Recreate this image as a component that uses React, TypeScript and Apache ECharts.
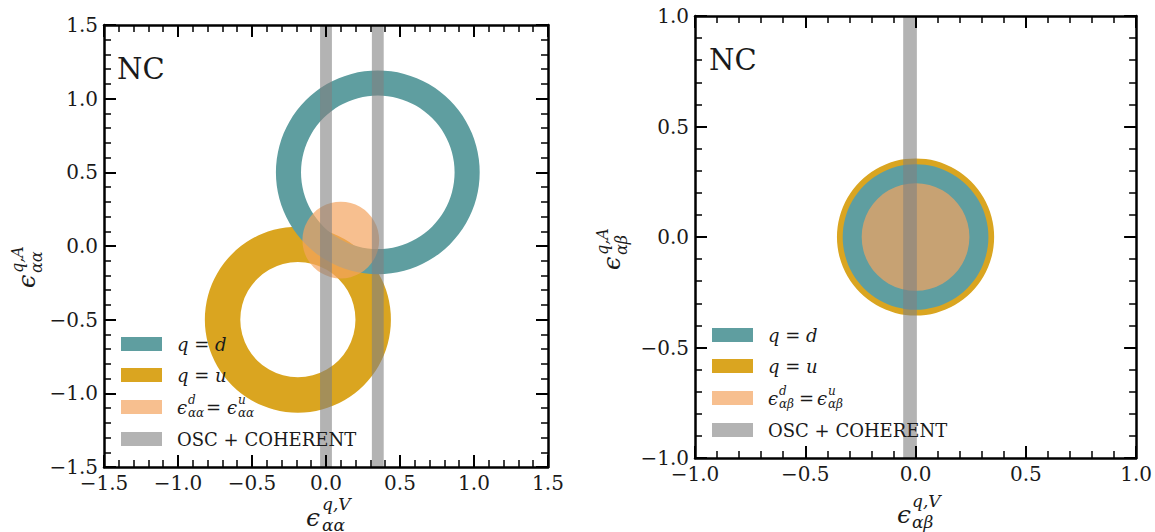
import React, { useEffect, useRef } from 'react';
import * as echarts from 'echarts';

const SERIF = 'DejaVu Serif';

// Allowed regions; index 0 = q=d, 1 = q=u, 2 = ε^d = ε^u
const regionColors = ['#5F9EA0', '#DAA520', 'rgba(244,164,96,0.7)'];
const bandColor = 'rgba(128,128,128,0.6)';
// Drawing order: u first, then d on top, then the combined region
const drawOrder = [1, 0, 2];

// Diagonal couplings (αα): ring centres and radii
const diagCenterX = [0.35, -0.19, 0.1];
const diagCenterY = [0.5, -0.5, 0.04];
const diagInnerR = [0.52, 0.39, 0];
const diagOuterR = [0.69, 0.63, 0.26];
// OSC + COHERENT allowed vertical bands
const diagBandLo = [-0.04, 0.31];
const diagBandHi = [0.04, 0.39];
const diagRange = [-1.5, 1.5];

// Off-diagonal couplings (αβ)
const offCenterX = [0, 0, 0];
const offCenterY = [0, 0, 0];
const offInnerR = [0, 0, 0];
const offOuterR = [0.33, 0.356, 0.244];
const offBandLo = [-0.056];
const offBandHi = [0.006];
const offRange = [-1.0, 1.0];

const tickStep = 0.5;

const fmt = (v: number) => (v < 0 ? '\u2212' + Math.abs(v).toFixed(1) : v.toFixed(1));

function axis(gridIndex: number, position: string, range: number[], showLabel: boolean) {
  return {
    type: 'value',
    gridIndex,
    position,
    min: range[0],
    max: range[1],
    interval: tickStep,
    z: 10,
    axisLine: { show: true, onZero: false, lineStyle: { color: '#000', width: 2.5 } },
    axisTick: { show: true, inside: true, length: 12, lineStyle: { color: '#000', width: 2 } },
    minorTick: { show: true, splitNumber: 5, length: 7, lineStyle: { color: '#000', width: 1.5 } },
    splitLine: { show: false },
    axisLabel: {
      show: showLabel,
      fontFamily: SERIF,
      fontSize: 20,
      color: '#1a1a1a',
      margin: 6,
      showMinLabel: true,
      showMaxLabel: true,
      formatter: fmt,
    },
  };
}

function ringItem(params: any, api: any) {
  const c = api.coord([api.value(0), api.value(1)]);
  const so = api.size([api.value(3), api.value(3)]);
  const si = api.size([api.value(2), api.value(2)]);
  const r = (so[0] + so[1]) / 2;
  const r0 = (si[0] + si[1]) / 2;
  return {
    type: 'ring',
    shape: { cx: c[0], cy: c[1], r, r0 },
    style: { fill: api.visual('color') },
  };
}

function bandItem(params: any, api: any) {
  const p0 = api.coord([api.value(0), api.value(3)]);
  const p1 = api.coord([api.value(1), api.value(2)]);
  return {
    type: 'rect',
    shape: { x: p0[0], y: p0[1], width: p1[0] - p0[0], height: p1[1] - p0[1] },
    style: { fill: bandColor },
  };
}

function regionSeries(gridIdx: number, cx: number[], cy: number[], ri: number[], ro: number[]) {
  return drawOrder.map((i) => ({
    type: 'custom',
    xAxisIndex: gridIdx * 2,
    yAxisIndex: gridIdx * 2,
    renderItem: ringItem,
    color: regionColors[i],
    clip: true,
    silent: true,
    data: [[cx[i], cy[i], ri[i], ro[i]]],
  }));
}

function bandSeries(gridIdx: number, lo: number[], hi: number[], range: number[]) {
  return {
    type: 'custom',
    xAxisIndex: gridIdx * 2,
    yAxisIndex: gridIdx * 2,
    renderItem: bandItem,
    clip: true,
    silent: true,
    data: lo.map((l, k) => [l, hi[k], range[0], range[1]]),
  };
}

function txt(x: number, y: number, text: string, size: number, italic = false, align = 'left') {
  return {
    type: 'text',
    x,
    y,
    z: 100,
    style: {
      text,
      fontFamily: SERIF,
      fontSize: size,
      fontStyle: italic ? 'italic' : 'normal',
      fill: '#1a1a1a',
      align,
      verticalAlign: 'middle',
    },
  };
}

// ϵ with a stacked superscript and subscript
function eps(x: number, y: number, sup: string, sub: string, size: number, sx: number, supDy: number, subDy: number) {
  const s = Math.round(size * 0.68);
  return [txt(x, y, '\u03F5', size, true), txt(x + sx, y - supDy, sup, s, true), txt(x + sx, y + subDy, sub, s, true)];
}

function richLabel(x: number, y: number, text: string) {
  return {
    type: 'text',
    x,
    y,
    z: 100,
    style: {
      text,
      fontFamily: SERIF,
      fontSize: 18,
      fill: '#1a1a1a',
      verticalAlign: 'middle',
      rich: { i: { fontStyle: 'italic', fontFamily: SERIF, fontSize: 18, fill: '#1a1a1a' } },
    },
  };
}

function legend(x0: number, tx: number, rows: number[], subIdx: string, eqX: number, eps2X: number) {
  const w = 41;
  const h = 14;
  const swatchColors = [regionColors[0], regionColors[1], regionColors[2], bandColor];
  const children: any[] = [];
  rows.forEach((ry, k) => {
    children.push({ type: 'rect', z: 100, shape: { x: x0, y: ry, width: w, height: h }, style: { fill: swatchColors[k] } });
  });
  const cy = rows.map((r) => r + h / 2);
  children.push(richLabel(tx, cy[0], '{i|q} = {i|d}'));
  children.push(richLabel(tx, cy[1], '{i|q} = {i|u}'));
  children.push(...eps(tx, cy[2], 'd', subIdx, 18, 11, 7, 6));
  children.push(txt(eqX, cy[2], '=', 18));
  children.push(...eps(eps2X, cy[2], 'u', subIdx, 18, 11, 7, 6));
  children.push(txt(tx, cy[3], 'OSC + COHERENT', 18));
  return children;
}

export default function App() {
  const ref = useRef<HTMLDivElement>(null);

  useEffect(() => {
    if (!ref.current) return;
    const chart = echarts.init(ref.current, undefined, { renderer: 'svg' });

    const option: any = {
      animation: false,
      backgroundColor: '#fff',
      textStyle: { fontFamily: SERIF },
      grid: [
        { left: 104, top: 25, width: 444, height: 442 },
        { left: 695, top: 16, width: 445, height: 442 },
      ],
      xAxis: [
        axis(0, 'bottom', diagRange, true),
        axis(0, 'top', diagRange, false),
        axis(1, 'bottom', offRange, true),
        axis(1, 'top', offRange, false),
      ],
      yAxis: [
        axis(0, 'left', diagRange, true),
        axis(0, 'right', diagRange, false),
        axis(1, 'left', offRange, true),
        axis(1, 'right', offRange, false),
      ],
      series: [
        ...regionSeries(0, diagCenterX, diagCenterY, diagInnerR, diagOuterR),
        bandSeries(0, diagBandLo, diagBandHi, diagRange),
        ...regionSeries(1, offCenterX, offCenterY, offInnerR, offOuterR),
        bandSeries(1, offBandLo, offBandHi, offRange),
      ],
      graphic: [
        txt(117, 69, 'NC', 29),
        txt(709, 60, 'NC', 29),
        ...legend(121, 177, [337, 368, 400, 432], '\u03B1\u03B1', 206, 227),
        ...legend(712, 768, [328, 359, 391, 423], '\u03B1\u03B2', 799, 817),
        // x-axis titles
        ...eps(306, 517, 'q,V', '\u03B1\u03B1', 25, 16, 13, 8),
        ...eps(897, 514, 'q,V', '\u03B1\u03B2', 25, 15, 13, 8),
        // y-axis titles, rotated
        {
          type: 'group',
          x: 27,
          y: 288,
          z: 100,
          rotation: Math.PI / 2,
          children: eps(0, 0, 'q,A', '\u03B1\u03B1', 24, 15, 10, 9),
        },
        {
          type: 'group',
          x: 612,
          y: 270,
          z: 100,
          rotation: Math.PI / 2,
          children: eps(0, 0, 'q,A', '\u03B1\u03B2', 24, 15, 10, 9),
        },
      ],
    };

    chart.setOption(option);
    return () => chart.dispose();
  }, []);

  return <div ref={ref} style={{ position: 'absolute', left: 0, top: 0, width: 1155, height: 532 }} />;
}
